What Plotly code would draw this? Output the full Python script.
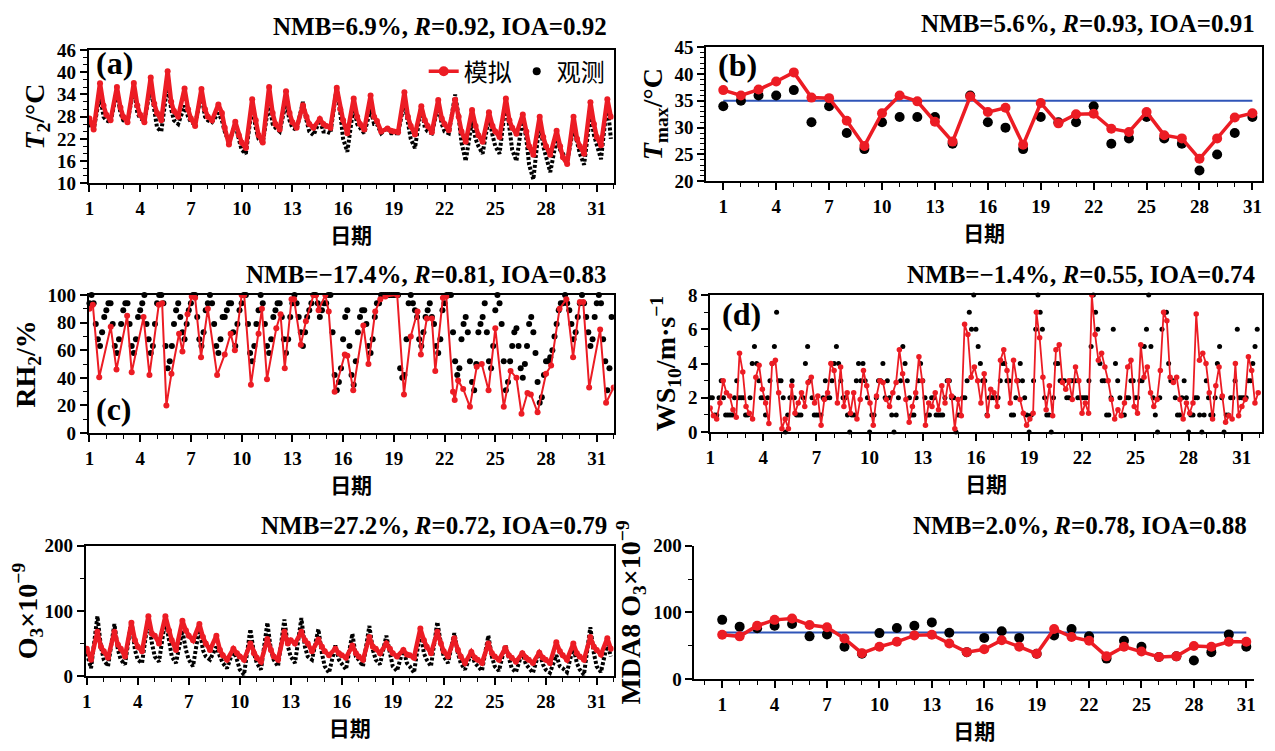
import plotly.graph_objects as go

W, H = 1275, 751
RED = "#ec1c24"
BLUE = "#2f55b8"
SERIF = "Liberation Serif"
CJK = "Noto Sans CJK SC"

DAYS = list(range(1, 32))

# (a) hourly 2 m temperature, read at hours 0, 6, 15, 20 of each day
HOURS_A = [0, 6, 15, 20]
T2_SIM = [
    27.5, 24.5, 37.0, 31.0,  28.5, 27.0, 36.0, 30.5,  28.0, 26.5, 37.1, 31.0,
    28.5, 26.5, 38.6, 31.5,  29.0, 27.0, 40.3, 32.0,  29.5, 28.0, 35.6, 30.0,
    27.5, 25.5, 35.5, 30.0,  28.0, 27.0, 31.3, 29.0,  25.0, 20.5, 26.6, 23.0,
    21.0, 19.5, 32.7, 27.0,  23.0, 21.0, 36.0, 29.0,  26.0, 24.5, 34.9, 29.0,
    26.5, 25.0, 31.1, 28.0,  26.0, 25.0, 27.4, 26.0,  25.5, 25.0, 35.8, 30.0,
    27.0, 23.5, 32.9, 28.0,  26.0, 24.5, 33.7, 28.0,  26.8, 24.0, 24.8, 24.2,
    24.0, 23.8, 34.6, 28.0,  25.5, 23.2, 30.8, 27.0,  25.5, 23.8, 32.5, 27.5,
    26.0, 24.3, 32.6, 28.0,  24.0, 21.2, 29.8, 25.5,  23.0, 21.2, 29.2, 25.5,
    24.0, 22.5, 32.9, 27.0,  25.0, 23.4, 28.6, 24.0,  20.0, 17.7, 28.0, 22.5,
    20.0, 17.7, 24.2, 20.0,  17.0, 15.2, 28.0, 22.0,  20.0, 18.0, 31.9, 26.0,
    22.5, 20.3, 32.7, 28.0,
]
T2_OBS = [
    26, 24.5, 34, 28,  27, 26.5, 35, 29,  27, 26.5, 36, 29,  27.5, 27, 36, 29,
    25, 24, 37, 30,  27, 26, 31, 28,  26.5, 26, 34, 28,  27, 26.5, 29, 27,
    24, 21, 26, 22,  19, 18, 31, 25,  22, 21, 32, 26,  25, 24, 32, 27,
    25, 24.5, 32, 27,  24, 23, 27, 24,  24, 23.5, 36, 29,  22, 18.5, 31, 26,
    25, 23.5, 30, 26,  26, 23.5, 25, 23.5,  23.5, 23.5, 32, 26,  22, 19.5, 31, 25,
    24, 23.5, 31, 26,  24, 23.5, 34, 28,  21, 16, 27, 22,  20, 18, 28, 23,
    20, 18, 32, 25,  19, 16, 28, 22,  15, 11, 27, 20,  17, 13, 22, 19,
    18, 16, 25, 21,  18, 15, 29, 23,  20, 16.5, 32, 22,
]

# (b) daily maximum temperature
TMAX_SIM = [37.0, 36.0, 37.1, 38.6, 40.3, 35.6, 35.5, 31.3, 26.6, 32.7, 36.0,
            34.9, 31.1, 27.4, 35.8, 32.9, 33.7, 26.8, 34.6, 30.8, 32.5, 32.6,
            29.8, 29.2, 32.9, 28.6, 28.0, 24.2, 28.0, 31.9, 32.7]
TMAX_OBS = [34, 35, 36, 36, 37, 31, 34, 29, 26, 31, 32, 32, 32, 27, 36, 31,
            30, 26, 32, 31, 31, 34, 27, 28, 32, 28, 27, 22, 25, 29, 32]
TMAX_REF = 35

# (c) relative humidity: simulated turning points, observed every 3 h
RH_SIM_T = [1.0, 1.2, 1.58, 2.26, 2.6, 3.23, 3.5, 4.2, 4.55, 5.1, 5.3, 5.55,
            5.85, 6.3, 6.5, 6.8, 7.05, 7.25, 7.6, 8.0, 8.55, 9.0, 9.35, 9.6,
            10.0, 10.15, 10.55, 11.0, 11.2, 11.5, 12.05, 12.3, 12.55, 12.95,
            13.1, 13.5, 13.8, 14.25, 14.4, 14.55, 14.95, 15.15, 15.5, 16.1,
            16.25, 16.6, 17.2, 17.5, 17.9, 18.2, 18.5, 19.2, 19.6, 20.0, 20.4,
            20.6, 20.95, 21.25, 21.45, 21.9, 22.1, 22.5, 22.6, 22.8, 23.1,
            23.5, 23.9, 24.2, 24.6, 25.0, 25.5, 25.9, 26.25, 26.55, 26.9, 27.1,
            27.5, 28.0, 28.3, 28.8, 29.2, 29.6, 30.0, 30.2, 30.55, 31.2, 31.55,
            32.0]
RH_SIM = [90, 93, 40.5, 77, 46, 85, 44, 84, 42, 93, 94, 20, 43, 72, 59, 86, 99,
          98, 55, 90, 42, 57, 72, 60, 100, 100, 35, 72, 90, 39, 76, 86, 47, 97,
          97, 64, 81, 100, 100, 89, 100, 88, 30, 57, 56, 31, 78, 50, 88, 97,
          99, 100, 28, 70, 88, 57, 83, 83, 45, 98, 99, 30, 24, 38, 32, 19, 48,
          50, 31, 76, 19, 45, 40, 14, 29, 28, 15, 43, 49, 90, 97, 55, 95, 95,
          33, 75, 22, 33]
HOURS_3H = [0, 3, 6, 9, 12, 15, 18, 21]
RH_OBS = [
    94, 100, 94, 79, 68, 63, 73, 84,   89, 94, 94, 79, 63, 58, 68, 79,
    89, 94, 94, 79, 63, 58, 68, 84,    89, 94, 100, 79, 68, 58, 63, 79,
    94, 100, 100, 94, 63, 47, 52, 63,  79, 89, 94, 84, 73, 68, 79, 89,
    94, 100, 100, 84, 68, 63, 73, 89,  94, 100, 94, 79, 63, 58, 68, 84,
    84, 89, 94, 94, 73, 63, 79, 89,    94, 100, 100, 79, 58, 52, 63, 79,
    89, 100, 94, 79, 63, 58, 68, 84,   89, 94, 94, 84, 68, 58, 68, 84,
    94, 100, 94, 84, 73, 63, 73, 84,   89, 94, 100, 100, 94, 84, 89, 94,
    94, 100, 100, 73, 42, 31, 37, 47,  68, 84, 89, 63, 42, 35, 52, 73,
    84, 89, 89, 79, 63, 58, 68, 84,    94, 94, 100, 100, 100, 100, 100, 100,
    100, 100, 100, 47, 40, 42, 68, 94, 100, 94, 89, 84, 68, 63, 73, 84,
    89, 94, 84, 79, 63, 58, 68, 89,    94, 100, 100, 100, 73, 52, 42, 47,
    68, 79, 84, 73, 52, 37, 31, 50,    73, 79, 84, 94, 73, 52, 47, 63,
    89, 100, 94, 79, 52, 31, 37, 52,   63, 73, 76, 63, 47, 40, 50, 63,
    79, 84, 73, 58, 37, 22, 26, 42,    52, 52, 55, 60, 70, 79, 89, 94,
    94, 100, 94, 89, 79, 68, 73, 84,   94, 100, 94, 84, 73, 63, 68, 84,
    94, 100, 94, 68, 52, 31, 47, 84,
]

# (d) 10 m wind speed: simulated at even spacing from day 1 to 31.93, observed every 3 h
WS_SIM_START, WS_SIM_END = 1.0, 31.93
WS_SIM = [
    1.4, 0.95, 0.76, 1.7, 3.0, 2.3, 2.1, 1.3, 0.86, 4.6,
    3.5, 1.5, 1.1, 0.76, 3.2, 3.9, 2.5, 1.7, 0.5, 4.0,
    4.2, 2.3, 0.2, 0.76, 0.2, 2.7, 1.1, 1.7, 2.3, 1.5,
    2.9, 3.2, 1.7, 2.1, 0.4, 1.9, 2.3, 4.0, 3.6, 1.7,
    3.8, 1.5, 2.3, 1.1, 2.3, 0.76, 1.9, 3.6, 2.7, 1.7,
    0.4, 2.1, 3.0, 2.9, 1.9, 1.5, 2.3, 2.9, 4.8, 3.4,
    1.9, 0.57, 1.5, 2.3, 4.4, 3.0, 0.4, 1.7, 1.5, 2.3,
    1.3, 2.7, 1.7, 3.0, 2.1, 0.2, 1.9, 0.95, 6.3, 5.7,
    3.2, 3.8, 3.0,
    1.7, 3.4, 0.95, 2.5, 2.3, 1.5, 4.2, 4.8, 3.6, 1.7,
    4.2, 3.0, 1.9, 1.1, 0.4, 0.76, 1.1, 7.0, 5.5, 3.2,
    1.3, 2.7, 0.95, 4.8, 5.1, 2.9, 2.5, 3.0, 1.9, 3.8,
    3.0, 1.1, 1.7, 1.1, 8.0, 5.7, 4.2, 4.6, 3.8, 3.0,
    1.9, 0.76, 1.3, 0.95, 1.7, 3.8, 4.2, 1.5, 1.1, 5.1,
    3.2, 3.8, 2.3, 1.5, 1.9, 3.6, 7.0, 6.5, 3.2, 2.9,
    3.2, 1.9, 0.76, 1.7, 1.1, 1.7, 6.9, 4.2, 4.6, 4.0,
    2.3, 0.76, 2.7, 3.8, 2.1, 0.57, 0.95, 0.76, 4.0, 0.95,
    1.5, 1.9, 4.4, 3.6, 1.7, 2.3,
]
WS_OBS = [
    2, 2, 1, 1, 2, 3, 2, 1,  1, 1, 1, 2, 3, 2, 2, 2,  1, 1, 2, 4, 5, 4, 3, 2,
    2, 1, 2, 3, 4, 5, 7, 3,  3, 2, 0, 1, 2, 3, 2, 1,  1, 1, 2, 4, 5, 3, 2, 1,
    1, 1, 1, 2, 3, 2, 2, 3,  4, 5, 4, 3, 2, 2, 1, 0,  1, 1, 3, 4, 3, 4, 3, 2,
    0, 1, 1, 2, 3, 3, 4, 2,  3, 2, 1, 0, 1, 2, 3, 5,  4, 3, 2, 1, 1, 2, 3, 4,
    3, 2, 1, 1, 2, 2, 1, 1,  1, 1, 2, 3, 3, 2, 2, 0,  1, 1, 2, 2, 3, 7, 6, 8,
    6, 5, 4, 3, 3, 1, 2, 2,  2, 2, 2, 3, 4, 4, 3, 3,  1, 1, 2, 3, 4, 3, 2, 1,
    0, 1, 3, 6, 8, 7, 6, 2,  1, 1, 0, 2, 4, 4, 3, 3,  3, 2, 2, 3, 3, 3, 2, 2,
    2, 2, 2, 3, 5, 8, 7, 6,  4, 3, 3, 1, 1, 2, 6, 4,  3, 2, 1, 1, 2, 2, 3, 3,
    2, 2, 3, 3, 5, 6, 8, 5,  2, 1, 0, 2, 6, 7, 7, 4,  3, 3, 2, 1, 1, 2, 3, 2,
    0, 1, 1, 2, 2, 1, 0, 1,  3, 2, 1, 1, 2, 4, 5, 2,  0, 1, 1, 2, 2, 3, 6, 2,
    2, 2, 2, 3, 3, 4, 5, 6,
]

# (e) hourly O3, read at hours 0, 6, 15, 20 of each day
O3_SIM = [
    42, 25, 68, 45,  38, 28, 68, 48,  42, 30, 82, 55,  45, 38, 92, 65,
    62, 50, 92, 70,  55, 40, 85, 70,  62, 55, 80, 60,  50, 40, 62, 40,
    32, 25, 42, 35,  30, 25, 50, 35,  28, 22, 57, 40,  30, 25, 68, 50,
    55, 50, 68, 55,  50, 38, 56, 45,  38, 32, 42, 35,  32, 28, 47, 35,
    30, 25, 60, 45,  42, 35, 50, 42,  35, 30, 40, 33,  32, 28, 73, 55,
    45, 35, 68, 50,  38, 30, 58, 40,  30, 20, 37, 28,  25, 20, 50, 35,
    30, 25, 43, 32,  28, 22, 35, 28,  25, 20, 36, 28,  25, 20, 52, 38,
    32, 25, 50, 35,  30, 25, 60, 45,  40, 33, 58, 42,
]
O3_OBS = [
    35, 12, 92, 45,  25, 15, 80, 40,  25, 18, 85, 40,  25, 20, 90, 50,
    30, 22, 88, 55,  30, 20, 70, 40,  25, 15, 75, 40,  30, 25, 45, 30,
    20, 12, 40, 25,  10, 2, 72, 35,  20, 10, 82, 40,  25, 15, 87, 45,
    30, 20, 89, 45,  30, 25, 72, 35,  15, 5, 47, 25,  18, 10, 65, 30,
    25, 15, 77, 40,  25, 18, 62, 35,  15, 8, 42, 20,  15, 5, 70, 35,
    25, 15, 83, 50,  30, 20, 66, 35,  20, 10, 35, 20,  15, 8, 62, 30,
    15, 8, 48, 25,  12, 6, 37, 18,  12, 5, 38, 18,  10, 5, 32, 15,
    12, 6, 45, 20,  10, 2, 75, 35,  15, 6, 50, 30,
]

# (f) daily maximum 8 h average O3
MDA8_SIM = [66.5, 64, 80, 88.8, 90.8, 81, 77.7, 60.7, 38.8, 48.5, 55.8, 65.5,
            66.5, 53.4, 40.3, 44.7, 58.3, 48.5, 37.9, 75.2, 63.1, 57.3, 34,
            48.5, 41.3, 33, 34, 49.5, 48.5, 55.8, 55.8]
MDA8_OBS = [88.8, 78.6, 76.2, 80, 82.5, 64, 67, 48.5, 37.9, 68.9, 76.7, 80, 85,
            69.4, 40.3, 61.7, 71.8, 61.7, 37.9, 65.5, 75.2, 64, 30.6, 57.3,
            48.5, 33, 34, 27.7, 40.3, 67, 48.5]
MDA8_REF = 70

STATS = [
    "NMB=6.9%, <i>R</i>=0.92, IOA=0.92",
    "NMB=5.6%, <i>R</i>=0.93, IOA=0.91",
    "NMB=\u221217.4%, <i>R</i>=0.81, IOA=0.83",
    "NMB=\u22121.4%, <i>R</i>=0.55, IOA=0.74",
    "NMB=27.2%, <i>R</i>=0.72, IOA=0.79",
    "NMB=2.0%, <i>R</i>=0.78, IOA=0.88",
]
YTITLES = [
    "<i>T</i><sub>2</sub>/\u00b0C",
    "<i>T</i><sub>max</sub>/\u00b0C",
    "RH<sub>2</sub>/%",
    "WS<sub>10</sub>/m\u00b7s<sup>\u22121</sup>",
    "O<sub>3</sub>\u00d710<sup>\u22129</sup>",
    "MDA8 O<sub>3</sub>\u00d710<sup>\u22129</sup>",
]

# panel boxes in pixels: left, right, top, bottom
BOXES = [
    (76, 604, 33, 170), (697, 1256, 30, 168),
    (76, 604, 285, 427), (701, 1256, 285, 426),
    (73, 604, 543, 677), (685, 1248, 543, 680),
]
XRANGES = [[0.95, 32], [0.03, 31.55], [0.95, 32], [1, 32.15], [0.93, 32], [-0.6, 31.45]]
YAXES = [
    dict(range=[10, 46], tick0=10, dtick=6, minor=2),
    dict(range=[20, 45], tick0=20, dtick=5, minor=1),
    dict(range=[0, 100], tick0=0, dtick=20, minor=10),
    dict(range=[0, 8], tick0=0, dtick=2, minor=1),
    dict(range=[0, 200], tick0=0, dtick=100, minor=50),
    dict(range=[0, 200], tick0=0, dtick=100, minor=50),
]


def hourly_x(hours):
    return [d + h / 24 for d in DAYS for h in hours]


tick_font = dict(family=SERIF, size=19, color="black", weight="bold")
fig = go.Figure()
layout = {}
for i, (l, r, t, b) in enumerate(BOXES):
    k = "" if i == 0 else str(i + 1)
    boxed = i != 5
    common = dict(
        showline=True, linecolor="black", linewidth=1.6, mirror=boxed,
        ticks="outside", ticklen=7, tickwidth=1.5, tickcolor="black",
        showgrid=False, zeroline=False, tickfont=tick_font,
    )
    layout["xaxis" + k] = dict(
        common, domain=[l / W, r / W], range=XRANGES[i], anchor="y" + k,
        tickmode="linear", tick0=1, dtick=3,
        minor=dict(dtick=1, tick0=1, ticks="outside", ticklen=4, tickcolor="black", tickwidth=1.2),
        title=dict(text="<b>日期</b>", font=dict(family=CJK, size=21, color="black"), standoff=6),
    )
    ya = YAXES[i]
    layout["yaxis" + k] = dict(
        common, domain=[1 - b / H, 1 - t / H], range=ya["range"], anchor="x" + k,
        tickmode="linear", tick0=ya["tick0"], dtick=ya["dtick"],
        minor=dict(dtick=ya["minor"], tick0=ya["tick0"], ticks="outside", ticklen=4,
                   tickcolor="black", tickwidth=1.2),
        title=dict(text="<b>" + YTITLES[i] + "</b>",
                   font=dict(family=SERIF, size=28, color="black"), standoff=4),
    )


def ax(i):
    k = "" if i == 0 else str(i + 1)
    return dict(xaxis="x" + k, yaxis="y" + k)


# (a)
xa = hourly_x(HOURS_A)
fig.add_trace(go.Scatter(x=xa, y=T2_OBS, mode="lines", line=dict(color="black", width=4, dash="3px,2px"),
                         showlegend=False, **ax(0)))
fig.add_trace(go.Scatter(x=xa, y=T2_SIM, mode="lines+markers", line=dict(color=RED, width=4.5),
                         marker=dict(color=RED, size=6), showlegend=False, **ax(0)))
fig.add_trace(go.Scatter(x=[None], y=[None], mode="lines+markers", name="模拟",
                         line=dict(color=RED, width=3.5), marker=dict(color=RED, size=10), **ax(0)))
fig.add_trace(go.Scatter(x=[None], y=[None], mode="markers", name="观测",
                         marker=dict(color="black", size=8), **ax(0)))

# (b)
fig.add_trace(go.Scatter(x=[1, 31], y=[TMAX_REF, TMAX_REF], mode="lines", line=dict(color=BLUE, width=2),
                         showlegend=False, **ax(1)))
fig.add_trace(go.Scatter(x=DAYS, y=TMAX_OBS, mode="markers", marker=dict(color="black", size=10),
                         showlegend=False, **ax(1)))
fig.add_trace(go.Scatter(x=DAYS, y=TMAX_SIM, mode="lines+markers", line=dict(color=RED, width=3.5),
                         marker=dict(color=RED, size=10), showlegend=False, **ax(1)))

# (c)
fig.add_trace(go.Scatter(x=hourly_x(HOURS_3H), y=RH_OBS, mode="markers", marker=dict(color="black", size=6),
                         cliponaxis=False, showlegend=False, **ax(2)))
fig.add_trace(go.Scatter(x=RH_SIM_T, y=RH_SIM, mode="lines+markers", line=dict(color=RED, width=2),
                         marker=dict(color=RED, size=6), showlegend=False, **ax(2)))

# (d)
n = len(WS_SIM)
ws_x = [WS_SIM_START + j * (WS_SIM_END - WS_SIM_START) / (n - 1) for j in range(n)]
fig.add_trace(go.Scatter(x=hourly_x(HOURS_3H), y=WS_OBS, mode="markers", marker=dict(color="black", size=5),
                         cliponaxis=False, showlegend=False, **ax(3)))
fig.add_trace(go.Scatter(x=ws_x, y=WS_SIM, mode="lines+markers", line=dict(color=RED, width=1.8),
                         marker=dict(color=RED, size=5.5), showlegend=False, **ax(3)))

# (e)
fig.add_trace(go.Scatter(x=xa, y=O3_OBS, mode="lines", line=dict(color="black", width=4, dash="3px,2px"),
                         showlegend=False, **ax(4)))
fig.add_trace(go.Scatter(x=xa, y=O3_SIM, mode="lines+markers", line=dict(color=RED, width=4.5),
                         marker=dict(color=RED, size=6), showlegend=False, **ax(4)))

# (f)
fig.add_trace(go.Scatter(x=[1, 31], y=[MDA8_REF, MDA8_REF], mode="lines", line=dict(color=BLUE, width=2),
                         showlegend=False, **ax(5)))
fig.add_trace(go.Scatter(x=DAYS, y=MDA8_OBS, mode="markers", marker=dict(color="black", size=10),
                         showlegend=False, **ax(5)))
fig.add_trace(go.Scatter(x=DAYS, y=MDA8_SIM, mode="lines+markers", line=dict(color=RED, width=3.5),
                         marker=dict(color=RED, size=10), showlegend=False, **ax(5)))

annotations = []
for i, (l, r, t, b) in enumerate(BOXES):
    gap = 24 if i < 2 else 21
    annotations.append(dict(
        text="<b>" + STATS[i] + "</b>", x=(r - 5) / W, y=1 - (t - gap) / H, xref="paper", yref="paper",
        xanchor="right", yanchor="middle", showarrow=False,
        font=dict(family=SERIF, size=25, color="black"),
    ))
LABELS = [("(a)", 0, 5, 13), ("(b)", 1, 10, 18), ("(c)", 2, 5, 117), ("(d)", 3, 10, 20)]
for txt, i, dx, dy in LABELS:
    l, r, t, b = BOXES[i]
    annotations.append(dict(
        text="<b>" + txt + "</b>", x=(l + dx) / W, y=1 - (t + dy) / H, xref="paper", yref="paper",
        xanchor="left", yanchor="middle", showarrow=False,
        font=dict(family=SERIF, size=32, color="black"),
    ))

fig.update_layout(
    width=W, height=H, margin=dict(l=0, r=0, t=0, b=0),
    paper_bgcolor="white", plot_bgcolor="white",
    annotations=annotations,
    legend=dict(orientation="h", x=(604 - 4) / W, xanchor="right", y=1 - 32 / H, yanchor="top",
                font=dict(family=CJK, size=24, color="black"), bgcolor="rgba(0,0,0,0)",
                itemwidth=30, tracegroupgap=0),
    **layout,
)

fig.write_html("out.html")
